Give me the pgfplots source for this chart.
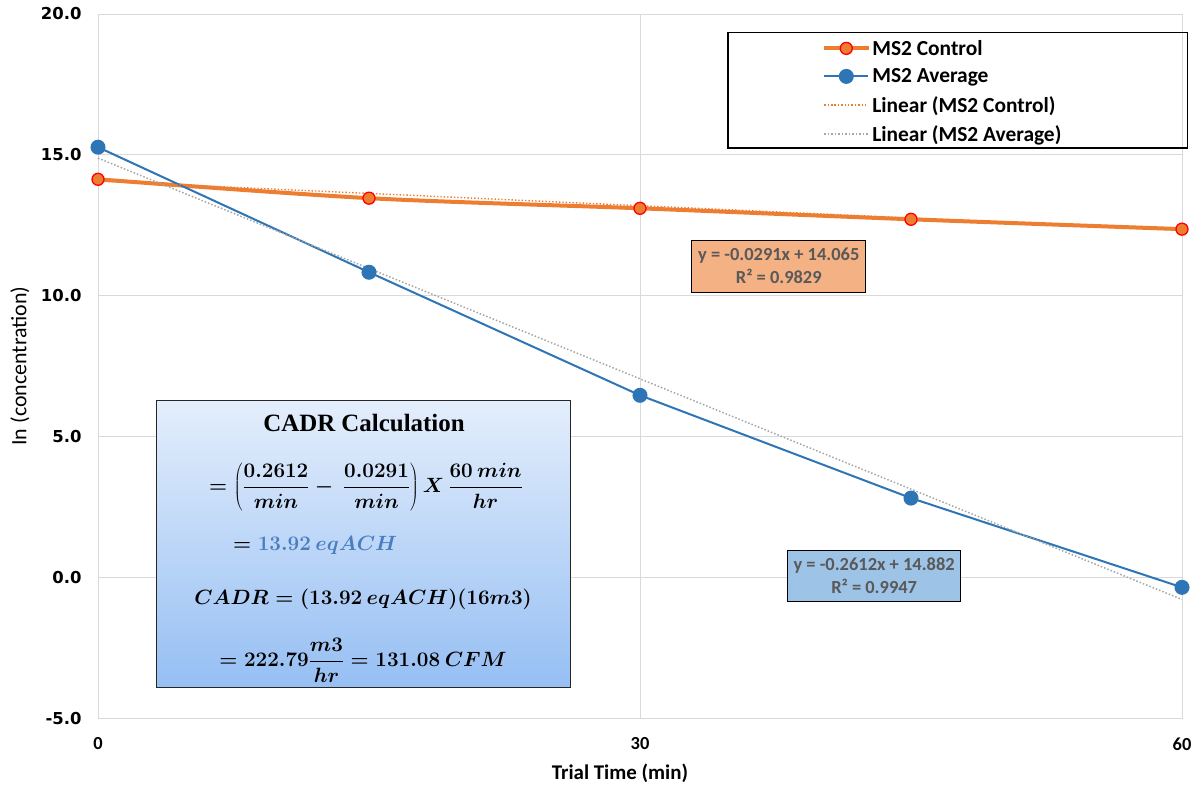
\documentclass[border=0pt]{standalone}
\usepackage[no-math]{fontspec}
\setmainfont{Carlito}
\newfontfamily\dejavu{DejaVu Sans}
\newfontfamily\serifb{Liberation Serif}
\usepackage{pgfplots}
\pgfplotsset{compat=1.18}
\usetikzlibrary{calc}
\definecolor{msorange}{HTML}{ED7D31}
\definecolor{msblue}{HTML}{2E75B6}
\definecolor{gridgray}{HTML}{D9D9D9}
\definecolor{trendgray}{HTML}{A6A6A6}
\definecolor{eqorange}{HTML}{F4B183}
\definecolor{eqbluefill}{HTML}{9DC3E6}
\definecolor{textgray}{HTML}{595959}
\definecolor{cadrtop}{HTML}{E4EEFC}
\definecolor{cadrbot}{HTML}{96BFF3}
\definecolor{eqblue}{HTML}{4A7EC0}
\newsavebox\boxA
\newsavebox\boxB
\newsavebox\boxC
\newsavebox\boxD
\begin{document}
\sbox\boxA{\fontsize{19.5}{19.5}\selectfont\boldmath$\displaystyle =\left(\frac{0.2612}{min}-\ \frac{0.0291}{min}\right)X\ \frac{60\ min}{hr}$}%
\sbox\boxB{\fontsize{20}{20}\selectfont\boldmath$= \textcolor{eqblue}{13.92\ eqACH}$}%
\sbox\boxC{\fontsize{19.5}{19.5}\selectfont\boldmath$CADR = (13.92\ eqACH)(16m3)$}%
\sbox\boxD{\fontsize{21}{21}\selectfont\boldmath$\displaystyle = 222.79\frac{m3}{hr} = 131.08\ CFM$}%
\begin{tikzpicture}
\begin{axis}[name=ax, scale only axis, width=1084bp, height=704bp,
 xmin=0, xmax=60, ymin=-5, ymax=20,
 xtick={0,30,60}, ytick={-5,0,5,10,15,20},
 grid=major, major grid style={draw=gridgray, line width=0.8bp},
 axis line style={draw=gridgray, line width=0.8bp}, tick style={draw=none},
 clip=false,
 yticklabel style={font=\dejavu\bfseries\fontsize{16.5}{16.5}\selectfont, xshift=-13bp,
   /pgf/number format/fixed, /pgf/number format/fixed zerofill, /pgf/number format/precision=1,
   /pgf/number format/assume math mode=true},
 xticklabel style={font=\bfseries\fontsize{18.5}{18.5}\selectfont, yshift=-16bp,
   /pgf/number format/assume math mode=true},
 ylabel={In (concentration)},
 ylabel style={font=\fontsize{22}{22}\selectfont, at={(axis description cs:-0.072,0.5)}, anchor=center},
 xlabel={Trial Time (min)},
 xlabel style={font=\bfseries\fontsize{21}{21}\selectfont, at={(axis description cs:0.4815,-0.078)}, anchor=center},
 legend image code/.code={\draw[mark repeat=2,mark phase=2,#1] plot coordinates {(0bp,0bp) (22bp,0bp) (44bp,0bp)};},
 legend style={at={(rel axis cs:0.668,0.966)}, anchor=north west, draw=none, fill=none,
   font=\bfseries\fontsize{21.5}{21.5}\selectfont, row sep=8bp, inner sep=0bp},
 legend cell align=left,
]
\addplot[msorange, line width=4bp, smooth, mark=*, mark size=6bp, mark options={fill=msorange, draw=red, line width=1.3bp}] coordinates {(0,14.13)(15,13.46)(30,13.10)(45,12.71)(60,12.36)};
\addlegendentry{MS2 Control}
\addplot[msblue, line width=2bp, mark=*, mark size=6.5bp, mark options={fill=msblue, draw=msblue}] coordinates {(0,15.27)(15,10.83)(30,6.46)(45,2.81)(60,-0.36)};
\addlegendentry{MS2 Average}
\addplot[msorange, dotted, line width=1.4bp] coordinates {(0,14.065)(60,12.319)};
\addlegendentry{Linear (MS2 Control)}
\addplot[trendgray, dotted, line width=1.5bp] coordinates {(0,14.882)(60,-0.79)};
\addlegendentry{Linear (MS2 Average)}
\coordinate (lg1) at (rel axis cs:0.581,0.974);
\coordinate (lg2) at (rel axis cs:1.005,0.81);
\coordinate (eo) at (rel axis cs:0.628,0.642);
\coordinate (eb) at (rel axis cs:0.716,0.2024);
\coordinate (cb1) at (rel axis cs:0.0544,0.4517);
\coordinate (cb2) at (rel axis cs:0.4363,0.044);
\coordinate (pA) at (rel axis cs:0.2454,0.419);
\coordinate (pB) at (rel axis cs:0.2472,0.328);
\coordinate (pC) at (rel axis cs:0.1245,0.2457);
\coordinate (pD) at (rel axis cs:0.2445,0.169);
\coordinate (pE) at (rel axis cs:0.2445,0.0824);
\end{axis}
\draw[black, line width=1.5bp] (lg1) rectangle (lg2);
\node[fill=eqorange, draw=black, line width=1bp, text=textgray, font=\bfseries\fontsize{18.5}{23}\selectfont,
  align=center, minimum width=174bp, minimum height=52bp, inner sep=1bp]
  at (eo) {y = -0.0291x + 14.065\\R² = 0.9829};
\node[fill=eqbluefill, draw=black, line width=1bp, text=textgray, font=\bfseries\fontsize{18.5}{23}\selectfont,
  align=center, minimum width=173bp, minimum height=51bp, inner sep=1bp]
  at (eb) {y = -0.2612x + 14.882\\R² = 0.9947};
\shade[top color=cadrtop, bottom color=cadrbot] (cb1) rectangle (cb2);
\draw[black!85, line width=1bp] (cb1) rectangle (cb2);
\node[font=\serifb\bfseries\fontsize{25}{25}\selectfont] at (pA) {CADR Calculation};
\node[inner sep=0pt] at (pB) {\usebox\boxA};
\node[inner sep=0pt, anchor=west] at (pC) {\usebox\boxB};
\node[inner sep=0pt] at (pD) {\usebox\boxC};
\node[inner sep=0pt] at (pE) {\usebox\boxD};
\pgfresetboundingbox
\path ($(ax.south west)+(-98bp,-67bp)$) rectangle ($(ax.north east)+(10bp,14bp)$);
\end{tikzpicture}
\end{document}
